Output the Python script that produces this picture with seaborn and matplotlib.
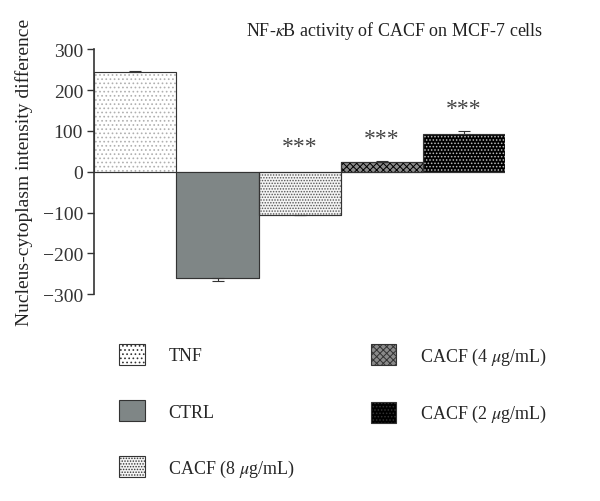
import matplotlib
matplotlib.use("Agg")
import matplotlib.pyplot as plt
import matplotlib.patches as mpatches
import numpy as np
import pandas as pd
import seaborn as sns

groups = ["TNF", "CTRL", "CACF (8 $\\mu$g/mL)", "CACF (4 $\\mu$g/mL)", "CACF (2 $\\mu$g/mL)"]
values = [245, -261, -106, 24, 92]
errors = [1, 6, 1, 3, 8]
stars = ["", "", "***", "***", "***"]
star_y = [0, 0, 36, 56, 128]

sns.set_style("ticks")
plt.rcParams['font.family'] = ['Liberation Serif', 'DejaVu Serif']
plt.rcParams['mathtext.fontset'] = 'stix'
plt.rcParams['hatch.linewidth'] = 0.7

df = pd.DataFrame({"group": groups, "value": values})

fig = plt.figure(figsize=(6, 5.02), dpi=100)
ax = fig.add_axes([0.157, 0.412, 0.685, 0.488])

sns.barplot(data=df, x="group", y="value", ax=ax, width=1.0, errorbar=None,
            color="white", edgecolor="#333333", linewidth=0.8)

# fill / hatch styles per bar
styles = [
    dict(facecolor="white", edgecolor="#b0b0b0", hatch="...."),
    dict(facecolor="#7f8686", edgecolor="#707777", hatch=""),
    dict(facecolor="#f4f4f4", edgecolor="#555555", hatch="......"),
    dict(facecolor="#8a8a8a", edgecolor="black", hatch="xxxxx"),
    dict(facecolor="black", edgecolor="#bdbdbd", hatch="....."),
]
for p, st in zip(ax.patches, styles):
    p.set_facecolor(st["facecolor"])
    p.set_edgecolor(st["edgecolor"])
    p.set_hatch(st["hatch"])
    # outline on top
    ax.add_patch(mpatches.Rectangle(p.get_xy(), p.get_width(), p.get_height(),
                                    fill=False, edgecolor="#333333", linewidth=0.8, zorder=3))

x = np.arange(len(values))
ax.errorbar(x, values, yerr=[[0 if v > 0 else e for v, e in zip(values, errors)],
                             [e if v > 0 else 0 for v, e in zip(values, errors)]],
            fmt="none", ecolor="#333333", elinewidth=0.8, capsize=4, capthick=0.8, zorder=4)

for xi, s, sy in zip(x, stars, star_y):
    if s:
        ax.text(xi, sy, s, ha="center", va="bottom", fontsize=17, color="#444444")

ax.axhline(0, color="#999999", linewidth=0.8, zorder=1)
ax.set_xlim(-0.5, 4.5)
ax.set_ylim(-300, 300)
ax.set_yticks([-300, -200, -100, 0, 100, 200, 300])
ax.set_yticklabels(["\u2212300", "\u2212200", "\u2212100", "0", "100", "200", "300"])
ax.set_xticks([])
ax.set_xlabel("")
ax.set_ylabel("Nucleus-cytoplasm intensity difference", fontsize=14, color="#222222", labelpad=7)
ax.tick_params(axis="y", labelsize=14, length=5, width=1, colors="#333333", direction="out", pad=3)
sns.despine(ax=ax, bottom=True)
ax.spines["left"].set_linewidth(1.2)
ax.spines["left"].set_color("#333333")
ax.set_title("NF-$\\kappa$B activity of CACF on MCF-7 cells", fontsize=13, x=0.73, y=1.025, color="#222222")

handles = []
for lab, st in zip(groups, styles):
    handles.append(mpatches.Patch(facecolor=st["facecolor"], edgecolor=st["edgecolor"], hatch=st["hatch"], label=lab))
leg = fig.legend(handles=handles, ncol=2, loc="upper left", bbox_to_anchor=(0.172, 0.345),
                 frameon=False, fontsize=13, handlelength=1.4, handleheight=1.4,
                 labelspacing=1.95, columnspacing=4.2, handletextpad=1.3)
for h in leg.legend_handles:
    h.set_linewidth(0.8)
    h.set_edgecolor("#333333")

fig.savefig("out.png", dpi=100)
